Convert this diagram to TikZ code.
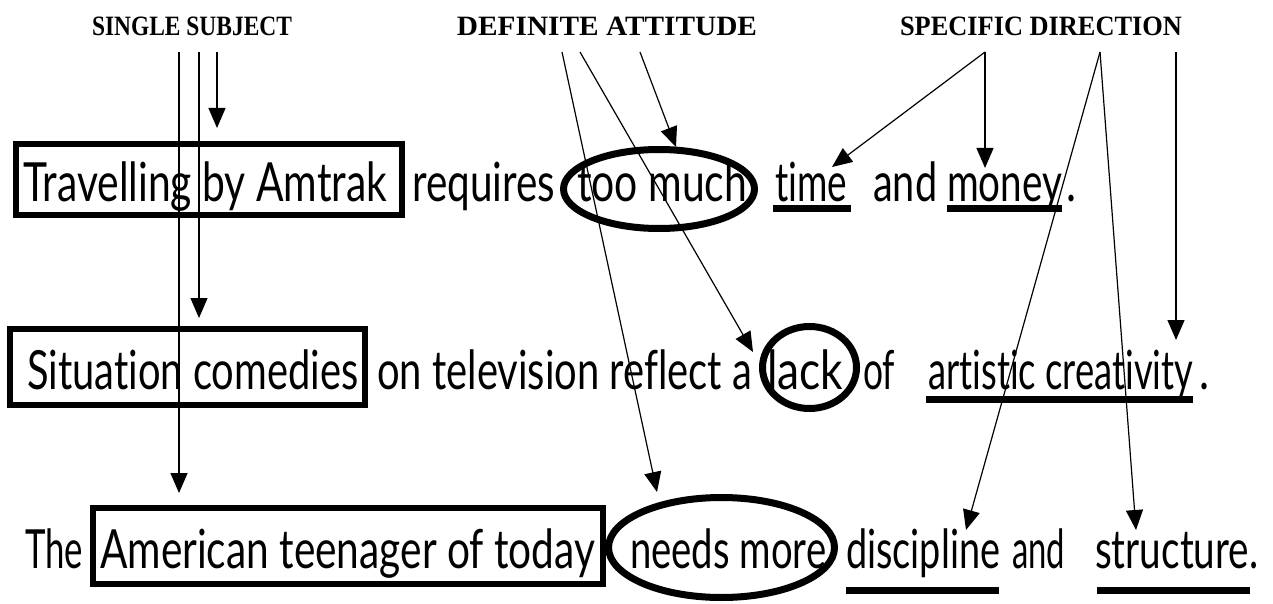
\documentclass[tikz,border=0pt]{standalone}
\usepackage{fontspec}
\setmainfont{Liberation Serif}
\newfontfamily\sentfont[Ligatures={NoCommon,NoRare,NoDiscretionary,NoContextual}]{Lato}
\usetikzlibrary{arrows.meta,shapes.geometric}
\newcommand\fw[2]{\resizebox{#1pt}{\height}{#2}}
\begin{document}
\begin{tikzpicture}[x=1pt,y=-1pt,
  hdr/.style={font=\fontsize{28}{32}\selectfont\bfseries, inner sep=0, anchor=base},
  wrd/.style={font=\sentfont\fontsize{54}{60}\selectfont, inner sep=0, anchor=base west},
  frame/.style={draw, line width=6pt, inner sep=0, rectangle},
  ring/.style={draw, line width=7pt, inner sep=0, ellipse},
  conn/.style={line width=1.2pt, -{Triangle[length=20pt,width=17pt]}},
  ul/.style={line width=7pt}]
\useasboundingbox (0,0) rectangle (1273,604);

% headers
\node[hdr] (h1) at (192,36) {\fw{200}{SINGLE SUBJECT}};
\node[hdr] (h2) at (607,36) {\fw{300}{DEFINITE ATTITUDE}};
\node[hdr] (h3) at (1041,36) {\fw{282}{SPECIFIC DIRECTION}};

% frames and rings
\node[frame, minimum width=386pt, minimum height=71pt] (b1) at (209,179.5) {};
\node[frame, minimum width=355pt, minimum height=76pt] (b2) at (187.5,367) {};
\node[frame, minimum width=510pt, minimum height=76pt] (b3) at (348,546) {};
\node[ring, minimum width=191pt, minimum height=79pt] (e1) at (659,189) {};
\node[ring, minimum width=94pt, minimum height=82pt] (e2) at (809.5,367.5) {};
\node[ring, minimum width=226pt, minimum height=100pt] (e3) at (721.5,547.5) {};

% sentence 1
\node[wrd] (t1a) at (23,201) {\fw{364}{Travelling by Amtrak}};
\node[wrd] (t1b) at (412,201) {\fw{143}{requires}};
\node[wrd] (t1c) at (577,201) {\fw{170}{too much}};
\node[wrd] (t1d) at (775,201) {\fw{72}{time}};
\node[wrd] (t1e) at (873,201) {\fw{64}{and}};
\node[wrd] (t1f) at (947,201) {\fw{115}{money}};
\node[wrd] (t1g) at (1066,201) {\fw{10}{.}};
% sentence 2
\node[wrd] (t2a) at (27,389) {\fw{331}{Situation comedies}};
\node[wrd] (t2b) at (377,389) {\fw{375}{on television reflect a}};
\node[wrd] (t2c) at (767,389) {\fw{76}{lack}};
\node[wrd] (t2d) at (863,389) {\fw{32}{of}};
\node[wrd] (t2e) at (928,389) {\fw{265}{artistic creativity}};
\node[wrd] (t2f) at (1199,389) {\fw{10}{.}};
% sentence 3
\node[wrd] (t3a) at (25,568) {\fw{58}{The}};
\node[wrd] (t3b) at (100,568) {\fw{495}{American teenager of today}};
\node[wrd] (t3c) at (630,568) {\fw{196}{needs more}};
\node[wrd] (t3d) at (846,568) {\fw{154}{discipline}};
\node[wrd] (t3e) at (1012,568) {\fw{53}{and}};
\node[wrd] (t3f) at (1095,568) {\fw{163}{structure.}};

% underlines
\coordinate (u1a) at (773,208); \coordinate (u1b) at (851,208);
\coordinate (u2a) at (947,208); \coordinate (u2b) at (1062,208);
\coordinate (u3a) at (926,399); \coordinate (u3b) at (1193,399);
\coordinate (u4a) at (846,590); \coordinate (u4b) at (999,590);
\coordinate (u5a) at (1097,590); \coordinate (u5b) at (1250,590);
\draw[ul] (u1a) -- (u1b);
\draw[ul] (u2a) -- (u2b);
\draw[ul] (u3a) -- (u3b);
\draw[ul] (u4a) -- (u4b);
\draw[ul] (u5a) -- (u5b);

% arrow sources
\coordinate (s1) at (179,52); \coordinate (s2) at (199,52); \coordinate (s3) at (217,52);
\coordinate (d1) at (562,52); \coordinate (d2) at (580,52); \coordinate (d3) at (640,52);
\coordinate (p1) at (985,52); \coordinate (p2) at (1100,52); \coordinate (p3) at (1176,52);
% arrow tips
\coordinate (a1) at (179,493); \coordinate (a2) at (199,318); \coordinate (a3) at (217,128);
\coordinate (a4) at (657,492); \coordinate (a5) at (753,352); \coordinate (a6) at (676,147);
\coordinate (a7) at (832,167); \coordinate (a8) at (985,168);
\coordinate (a9) at (966,530); \coordinate (a10) at (1136,530); \coordinate (a11) at (1176,340);

\draw[conn] (s1) -- (a1);
\draw[conn] (s2) -- (a2);
\draw[conn] (s3) -- (a3);
\draw[conn] (d1) -- (a4);
\draw[conn] (d2) -- (a5);
\draw[conn] (d3) -- (a6);
\draw[conn] (p1) -- (a7);
\draw[conn] (p1) -- (a8);
\draw[conn] (p2) -- (a9);
\draw[conn] (p2) -- (a10);
\draw[conn] (p3) -- (a11);
\end{tikzpicture}
\end{document}
